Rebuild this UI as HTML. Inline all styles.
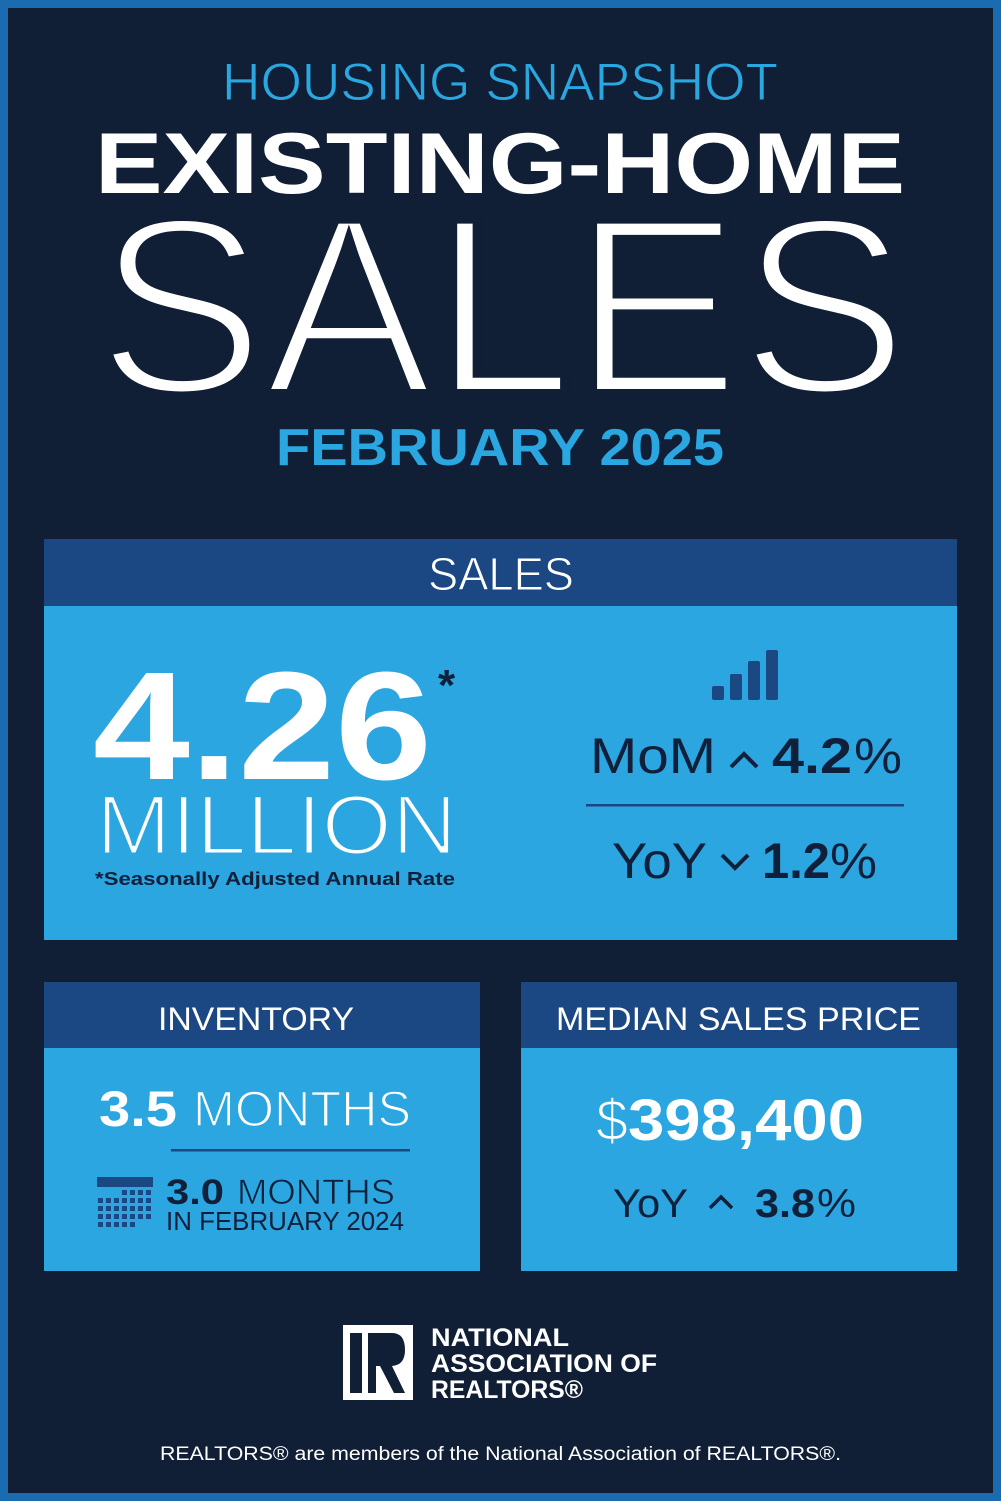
<!DOCTYPE html>
<html><head><meta charset="utf-8"><style>
html,body{margin:0;padding:0;background:#101f35}
svg{display:block}
text{font-family:"Liberation Sans",sans-serif}
</style></head><body>
<svg width="1001" height="1501" viewBox="0 0 1001 1501" xmlns="http://www.w3.org/2000/svg">
<rect x="0" y="0" width="1001" height="1501" fill="#1a6bb0"/>
<rect x="8" y="8" width="985" height="1485" fill="#101f35"/>

<text x="222" y="100" font-size="53" fill="#2aa6e0" stroke="#101f35" stroke-width="1" textLength="556" lengthAdjust="spacingAndGlyphs">HOUSING SNAPSHOT</text>
<text x="95" y="193" font-size="86" font-weight="bold" fill="#fff" textLength="810" lengthAdjust="spacingAndGlyphs">EXISTING-HOME</text>
<text x="97" y="393" font-size="252" fill="#fff" stroke="#101f35" stroke-width="8" textLength="811" lengthAdjust="spacingAndGlyphs">SALES</text>
<text x="276" y="465" font-size="52" font-weight="bold" fill="#2aa6e0" textLength="448" lengthAdjust="spacingAndGlyphs">FEBRUARY 2025</text>

<!-- Sales box -->
<rect x="44" y="539" width="913" height="68" fill="#1b4783"/>
<rect x="44" y="606" width="913" height="334" fill="#2ba6e0"/>
<text x="428" y="590" font-size="46" fill="#fff" stroke="#1b4783" stroke-width="1" textLength="146" lengthAdjust="spacingAndGlyphs">SALES</text>
<text x="93" y="779" font-size="154" font-weight="bold" fill="#fff" textLength="339" lengthAdjust="spacingAndGlyphs">4.26</text>
<text x="438" y="700" font-size="44" font-weight="bold" fill="#10203a">*</text>
<text x="96" y="854" font-size="84" fill="#fff" stroke="#2ba6e0" stroke-width="3" textLength="361" lengthAdjust="spacingAndGlyphs">MILLION</text>
<text x="95" y="885" font-size="18" font-weight="bold" fill="#10203a" textLength="360" lengthAdjust="spacingAndGlyphs">*Seasonally Adjusted Annual Rate</text>
<g fill="#1b4783">
<rect x="712" y="686" width="12" height="14" rx="2"/>
<rect x="730" y="674" width="12" height="26" rx="2"/>
<rect x="748" y="661" width="12" height="39" rx="2"/>
<rect x="766" y="650" width="12" height="50" rx="2"/>
</g>
<text x="590" y="773" font-size="50" fill="#10203a" textLength="126" lengthAdjust="spacingAndGlyphs">MoM</text>
<polyline points="731,767 744,754 757,767" fill="none" stroke="#10203a" stroke-width="4"/>
<text x="772" y="773" font-size="50" font-weight="bold" fill="#10203a" textLength="80" lengthAdjust="spacingAndGlyphs">4.2</text>
<text x="854" y="773" font-size="50" fill="#10203a" textLength="48" lengthAdjust="spacingAndGlyphs">%</text>
<rect x="586" y="804" width="318" height="2.5" fill="#1b4783"/>
<text x="612" y="878" font-size="50" fill="#10203a" textLength="95" lengthAdjust="spacingAndGlyphs">YoY</text>
<polyline points="722,855 735,868 748,855" fill="none" stroke="#10203a" stroke-width="4"/>
<text x="762" y="878" font-size="50" font-weight="bold" fill="#10203a" textLength="68" lengthAdjust="spacingAndGlyphs">1.2</text>
<text x="830" y="878" font-size="50" fill="#10203a" textLength="47" lengthAdjust="spacingAndGlyphs">%</text>

<!-- Inventory -->
<rect x="44" y="982" width="436" height="67" fill="#1b4783"/>
<rect x="44" y="1048" width="436" height="223" fill="#2ba6e0"/>
<text x="158" y="1030" font-size="32" fill="#fff" textLength="196" lengthAdjust="spacingAndGlyphs">INVENTORY</text>
<text x="99" y="1126" font-size="50" font-weight="bold" fill="#fff" textLength="78" lengthAdjust="spacingAndGlyphs">3.5</text>
<text x="193" y="1126" font-size="50" fill="#fff" stroke="#2ba6e0" stroke-width="1.5" textLength="218" lengthAdjust="spacingAndGlyphs">MONTHS</text>
<rect x="171" y="1149" width="239" height="2.5" fill="#1b4783"/>
<rect x="97" y="1177" width="56" height="10" fill="#1b4783"/>
<text x="166" y="1204" font-size="35" font-weight="bold" fill="#10203a" textLength="58" lengthAdjust="spacingAndGlyphs">3.0</text>
<text x="237" y="1204" font-size="35" fill="#10203a" stroke="#2ba6e0" stroke-width="0.8" textLength="158" lengthAdjust="spacingAndGlyphs">MONTHS</text>
<text x="166" y="1230" font-size="26" fill="#10203a" textLength="238" lengthAdjust="spacingAndGlyphs">IN FEBRUARY 2024</text>

<!-- Median -->
<rect x="521" y="982" width="436" height="67" fill="#1b4783"/>
<rect x="521" y="1048" width="436" height="223" fill="#2ba6e0"/>
<text x="556" y="1030" font-size="32" fill="#fff" textLength="365" lengthAdjust="spacingAndGlyphs">MEDIAN SALES PRICE</text>
<text x="596" y="1140" font-size="58" fill="#fff" stroke="#2ba6e0" stroke-width="1.5" textLength="32" lengthAdjust="spacingAndGlyphs">$</text>
<text x="628" y="1140" font-size="58" font-weight="bold" fill="#fff" textLength="236" lengthAdjust="spacingAndGlyphs">398,400</text>
<text x="613" y="1217" font-size="40" fill="#10203a" textLength="75" lengthAdjust="spacingAndGlyphs">YoY</text>
<polyline points="710,1208 721,1197 732,1208" fill="none" stroke="#10203a" stroke-width="3.5"/>
<text x="755" y="1217" font-size="40" font-weight="bold" fill="#10203a" textLength="60" lengthAdjust="spacingAndGlyphs">3.8</text>
<text x="817" y="1217" font-size="40" fill="#10203a" textLength="39" lengthAdjust="spacingAndGlyphs">%</text>

<!-- Logo -->
<rect x="343" y="1325" width="70" height="75" fill="#fff"/>
<rect x="350" y="1333" width="12" height="60" fill="#101f35"/>
<path d="M368,1333 H392 Q405,1333 405,1350 Q405,1365 392,1366 L405,1393 H394 L380,1366 H376 V1393 H368 Z" fill="#101f35"/>
<text x="431" y="1346" font-size="25" font-weight="bold" fill="#fff" textLength="138" lengthAdjust="spacingAndGlyphs">NATIONAL</text>
<text x="431" y="1372" font-size="25" font-weight="bold" fill="#fff" textLength="226" lengthAdjust="spacingAndGlyphs">ASSOCIATION OF</text>
<text x="431" y="1398" font-size="25" font-weight="bold" fill="#fff" textLength="152" lengthAdjust="spacingAndGlyphs">REALTORS®</text>
<text x="160" y="1460" font-size="19" fill="#fff" textLength="681" lengthAdjust="spacingAndGlyphs">REALTORS® are members of the National Association of REALTORS®.</text>

<!-- calendar grid -->
<g fill="#1b4783">
<rect x="122" y="1190" width="5" height="5"/><rect x="130" y="1190" width="5" height="5"/><rect x="138" y="1190" width="5" height="5"/><rect x="146" y="1190" width="5" height="5"/>
<rect x="98" y="1198" width="5" height="5"/><rect x="106" y="1198" width="5" height="5"/><rect x="114" y="1198" width="5" height="5"/><rect x="122" y="1198" width="5" height="5"/><rect x="130" y="1198" width="5" height="5"/><rect x="138" y="1198" width="5" height="5"/><rect x="146" y="1198" width="5" height="5"/>
<rect x="98" y="1206" width="5" height="5"/><rect x="106" y="1206" width="5" height="5"/><rect x="114" y="1206" width="5" height="5"/><rect x="122" y="1206" width="5" height="5"/><rect x="130" y="1206" width="5" height="5"/><rect x="138" y="1206" width="5" height="5"/><rect x="146" y="1206" width="5" height="5"/>
<rect x="98" y="1214" width="5" height="5"/><rect x="106" y="1214" width="5" height="5"/><rect x="114" y="1214" width="5" height="5"/><rect x="122" y="1214" width="5" height="5"/><rect x="130" y="1214" width="5" height="5"/><rect x="138" y="1214" width="5" height="5"/><rect x="146" y="1214" width="5" height="5"/>
<rect x="98" y="1222" width="5" height="5"/><rect x="106" y="1222" width="5" height="5"/><rect x="114" y="1222" width="5" height="5"/><rect x="122" y="1222" width="5" height="5"/><rect x="130" y="1222" width="5" height="5"/>
</g>
</svg>
</body></html>
